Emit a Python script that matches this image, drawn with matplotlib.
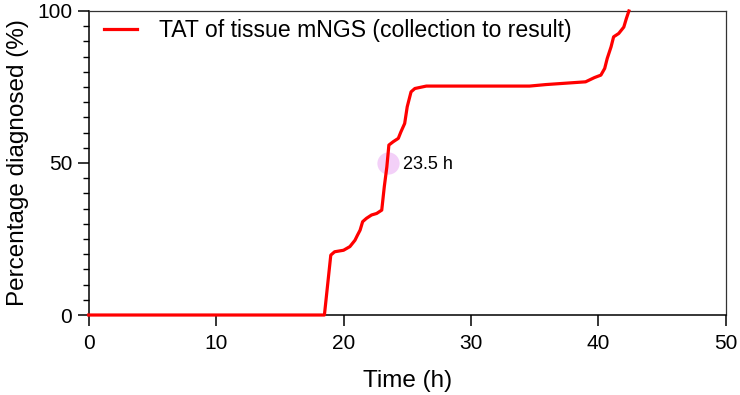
import numpy as np
import matplotlib
matplotlib.use('Agg')
import matplotlib.pyplot as plt
from matplotlib.ticker import MultipleLocator

plt.rcParams['font.family'] = ['Liberation Sans', 'DejaVu Sans']

# cumulative curve
time_h = [0.0, 18.5, 19.0, 19.3, 20.0, 20.5, 20.9, 21.1, 21.3, 21.5, 21.8,
          22.2, 22.6, 23.0, 23.2, 23.4, 23.56, 23.9, 24.3, 24.5, 24.8, 25.0,
          25.3, 25.6, 26.5, 30.7, 34.6, 35.9, 39.0, 39.7, 40.2, 40.5, 40.7,
          41.0, 41.2, 41.6, 42.0, 42.2, 42.4]
pct = [0.0, 0.0, 19.7, 20.8, 21.3, 22.5, 24.6, 26.3, 27.9, 30.7, 31.8,
       32.9, 33.4, 34.5, 42.2, 48.7, 55.9, 57.0, 58.1, 60.2, 63.0, 68.5,
       73.4, 74.5, 75.3, 75.3, 75.3, 75.8, 76.7, 78.1, 78.9, 81.1, 84.4,
       88.2, 91.5, 92.6, 94.7, 97.5, 100.0]

median_t = 23.5
median_pct = 50
median_label = '23.5 h'

fig = plt.figure(figsize=(7.4, 3.95), dpi=100)
ax = fig.add_axes([0.1199, 0.2025, 0.8608, 0.7697])

ax.plot(median_t, median_pct, 'o', ms=16, color='#f3d0f8', mec='none', zorder=1)
ax.plot(time_h, pct, '-', color='#ff0000', lw=2.3,
        label='TAT of tissue mNGS (collection to result)', zorder=3, clip_on=False)
ax.text(median_t + 1.2, median_pct - 0.5, median_label, fontsize=13, va='center', ha='left')

ax.set_xlim(0, 50)
ax.set_ylim(0, 100)
ax.set_xticks([0, 10, 20, 30, 40, 50])
ax.set_yticks([0, 50, 100])
ax.yaxis.set_minor_locator(MultipleLocator(5))
ax.tick_params(axis='both', which='major', direction='out', length=8, width=1.1, labelsize=15)
ax.tick_params(axis='x', which='major', pad=6)
ax.tick_params(axis='y', which='major', pad=4)
ax.tick_params(axis='y', which='minor', direction='out', length=4.3, width=1.0)

for s in ['left', 'bottom']:
    ax.spines[s].set_linewidth(1.1)
    ax.spines[s].set_color('black')
for s in ['top', 'right']:
    ax.spines[s].set_linewidth(0.9)
    ax.spines[s].set_color('#333333')

ax.set_xlabel('Time (h)', fontsize=17.5, labelpad=12)
ax.set_ylabel('Percentage diagnosed (%)', fontsize=17.5, labelpad=6)

ax.legend(loc='upper left', bbox_to_anchor=(0.0, 1.022), frameon=False, fontsize=16.6,
          handlelength=1.45, handletextpad=0.95, borderaxespad=0.15, borderpad=0.5)

fig.savefig('out.png', dpi=100)
